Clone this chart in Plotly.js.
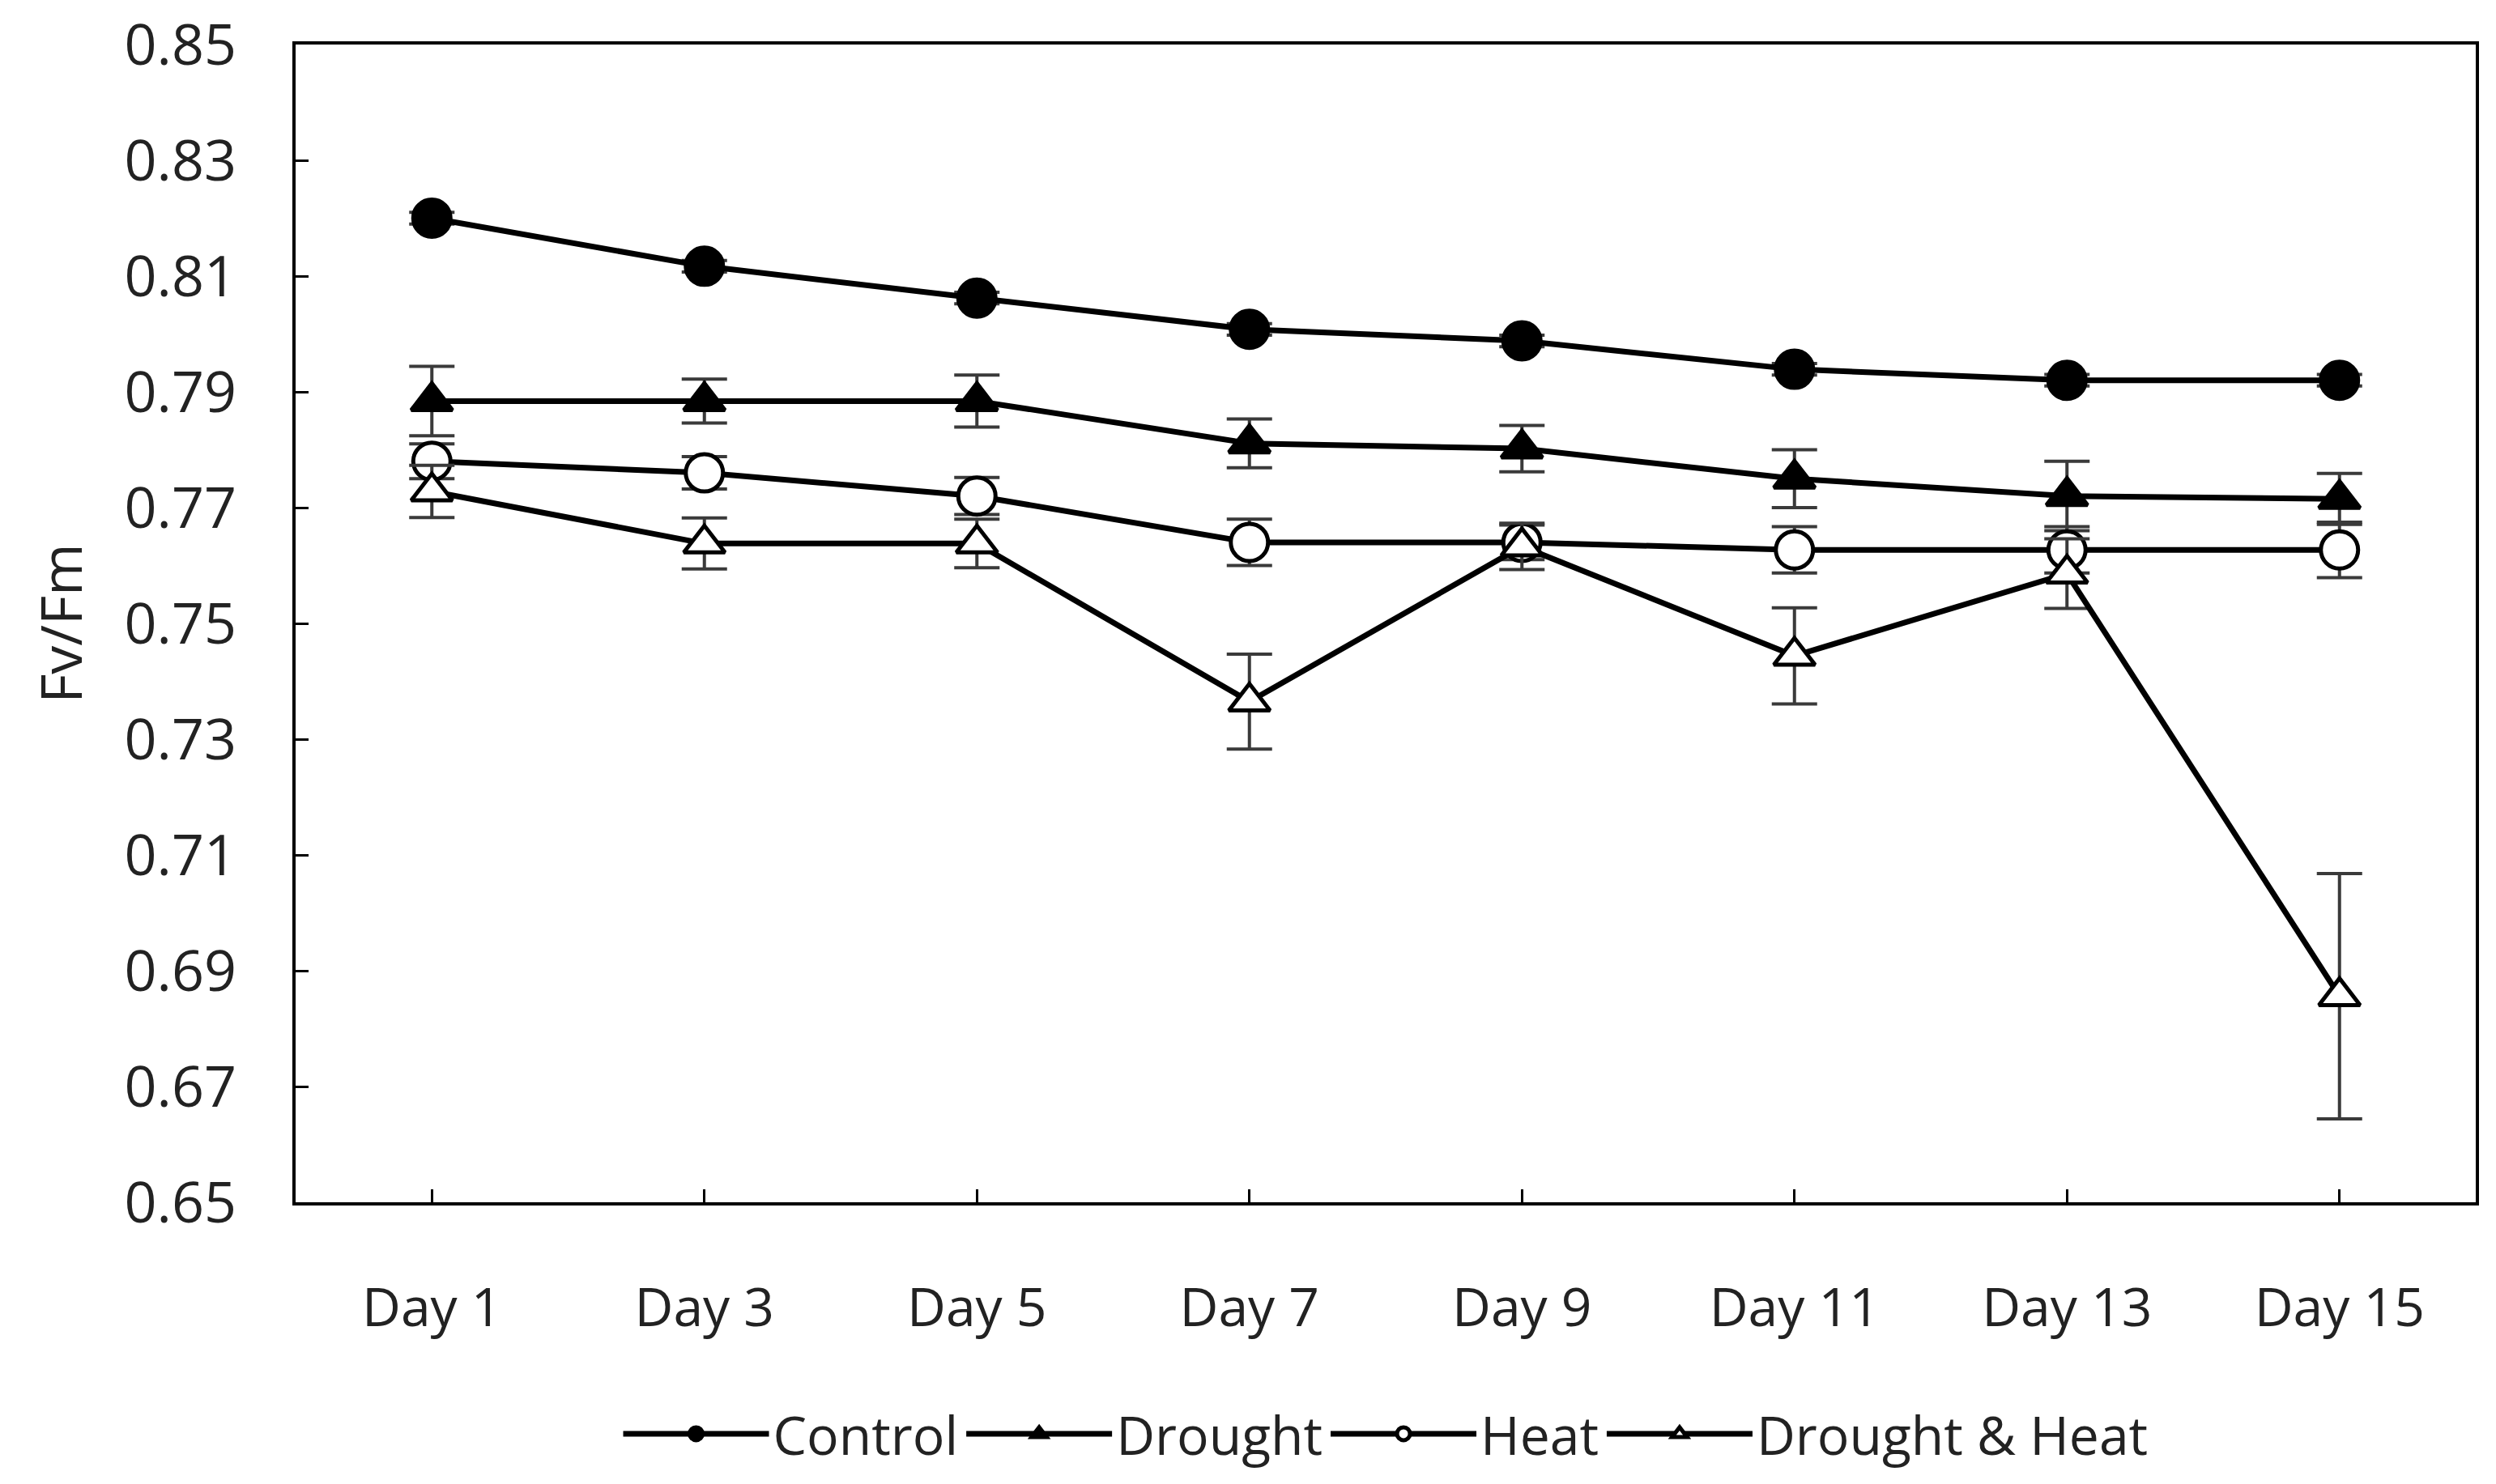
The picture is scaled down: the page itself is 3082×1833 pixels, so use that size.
<!DOCTYPE html>
<html>
<head>
<meta charset="utf-8">
<script src="https://cdn.plot.ly/plotly-3.0.1.min.js"></script>
<style>html,body{margin:0;padding:0;background:#fff;}</style>
</head>
<body>
<div id="chart" style="width:3082px;height:1833px;"></div>
<script>
const days = ["Day 1","Day 3","Day 5","Day 7","Day 9","Day 11","Day 13","Day 15"];

const control      = [0.820, 0.8117, 0.8062, 0.8008, 0.7988, 0.7939, 0.7920, 0.7920];
const controlErr   = [0.001, 0.001, 0.001, 0.001, 0.001, 0.001, 0.001, 0.001];

const drought      = [0.7884, 0.7884, 0.7884, 0.7811, 0.7802, 0.7750, 0.7720, 0.7715];
const droughtErr   = [0.0060, 0.0038, 0.0045, 0.0042, 0.0040, 0.0050, 0.0060, 0.0044];

const heat         = [0.7780, 0.7760, 0.7720, 0.7640, 0.7640, 0.7627, 0.7627, 0.7627];
const heatErr      = [0.0030, 0.0028, 0.0032, 0.0040, 0.0030, 0.0040, 0.0040, 0.0048];

const dh           = [0.7728, 0.7638, 0.7638, 0.7365, 0.7633, 0.7444, 0.7586, 0.6856];
const dhErr        = [0.0045, 0.0044, 0.0042, 0.0082, 0.0040, 0.0083, 0.0060, 0.0212];

const seriesNames = ["Control", "Drought", "Heat", "Drought & Heat"];

function tr(name, y, err, symbol, fill) {
  return {
    type: "scatter", mode: "lines+markers", name: name,
    x: days, y: y,
    line: {color: "#000", width: 7},
    marker: {symbol: symbol, size: symbol === "circle" ? 46 : 44, color: fill,
             line: {color: "#000", width: 5}},
    error_y: {type: "data", array: err, visible: true, color: "#3a3a3a", thickness: 4, width: 28}
  };
}

const data = [
  tr(seriesNames[0], control, controlErr, "circle", "#000"),
  tr(seriesNames[1], drought, droughtErr, "triangle-up", "#000"),
  tr(seriesNames[2], heat, heatErr, "circle", "#fff"),
  tr(seriesNames[3], dh, dhErr, "triangle-up", "#fff")
];

const font = "Open Sans, Noto Sans, sans-serif";

const layout = {
  width: 3082, height: 1833, autosize: false,
  paper_bgcolor: "#fff", plot_bgcolor: "#fff",
  margin: {l: 365, r: 25, t: 55, b: 340},
  font: {family: font, color: "#222", size: 68},
  showlegend: true,
  legend: {orientation: "h", x: 0.5, xanchor: "center", y: -0.2, yanchor: "middle",
           font: {size: 66, color: "#222"}, itemwidth: 180, tracegroupgap: 0, itemsizing: "trace"},
  xaxis: {
    type: "category", range: [-0.5, 7.5],
    showline: true, linecolor: "#000", linewidth: 4, mirror: true,
    ticks: "inside", ticklen: 16, tickwidth: 3, tickcolor: "#000",
    showgrid: false, zeroline: false, ticklabelstandoff: 70,
    tickfont: {size: 66, color: "#222"}
  },
  yaxis: {
    range: [0.65, 0.85], tickvals: [0.65,0.67,0.69,0.71,0.73,0.75,0.77,0.79,0.81,0.83,0.85],
    tickformat: ".2f",
    showline: true, linecolor: "#000", linewidth: 4, mirror: true,
    ticks: "inside", ticklen: 16, tickwidth: 3, tickcolor: "#000",
    showgrid: false, zeroline: false, ticklabelstandoff: 55,
    tickfont: {size: 70, color: "#222"},
    title: {text: "Fv/Fm", font: {size: 70, color: "#222"}, standoff: 30}
  }
};

Plotly.newPlot("chart", data, layout, {displayModeBar: false, staticPlot: true});
</script>
</body>
</html>
